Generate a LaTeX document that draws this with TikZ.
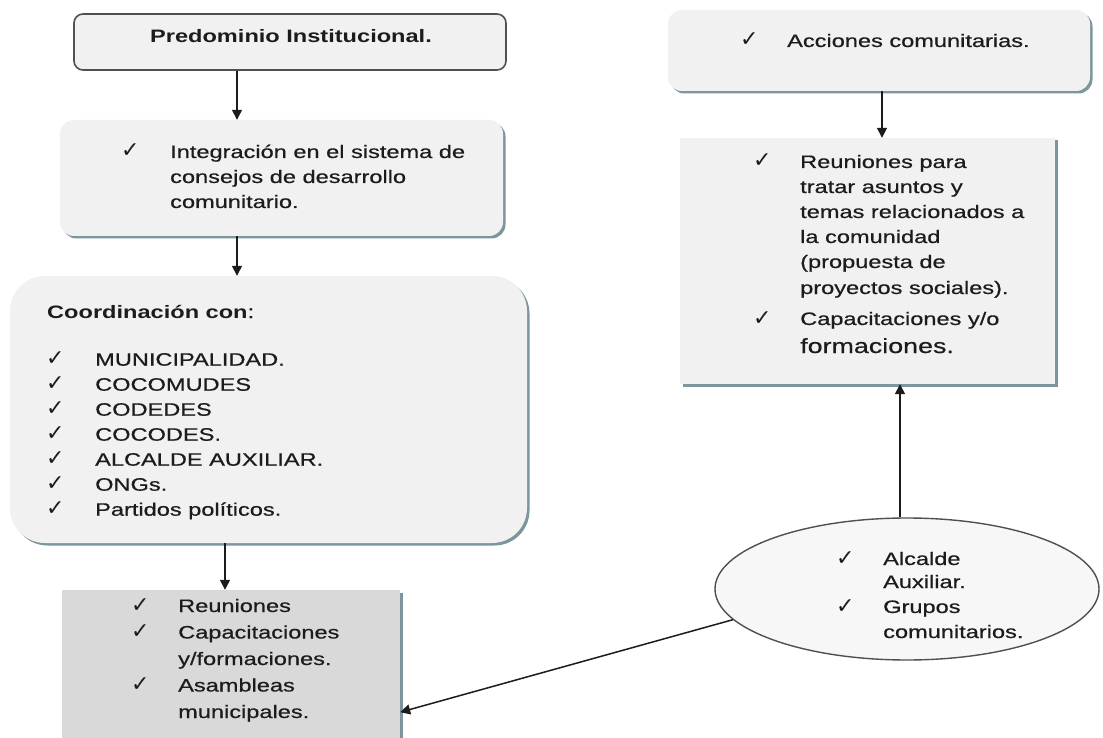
\documentclass[tikz,border=0pt]{standalone}
\usepackage{fontspec}
\newfontfamily\txtfont[FakeStretch=1.31,FakeBold=0.6]{Liberation Sans}
\newfontfamily\headfont[FakeStretch=1.31]{Liberation Sans Bold}
\newfontfamily\chkfont{DejaVu Sans Bold}
\usetikzlibrary{arrows.meta,shapes.geometric,shadows}
\definecolor{boxfill}{RGB}{241,241,241}
\definecolor{darkfill}{RGB}{217,217,217}
\definecolor{shade}{RGB}{125,150,158}
\definecolor{ink}{RGB}{28,28,28}
\definecolor{frame}{RGB}{80,80,80}

\tikzset{
  every node/.style={font=\txtfont\fontsize{18}{25}\selectfont, text=ink},
  panel/.style={rectangle, fill=boxfill, inner sep=0pt,
    drop shadow={shadow xshift=2.5pt, shadow yshift=-2.5pt, fill=shade, opacity=1}},
  titlebox/.style={rectangle, fill=boxfill, draw=frame, line width=1.6pt,
    rounded corners=9pt, inner sep=0pt},
  oval/.style={ellipse, fill=boxfill!60!white, draw=frame, line width=1.4pt, inner sep=0pt},
  wordline/.style={anchor=base west, inner sep=0pt},
  boldline/.style={anchor=base west, inner sep=0pt,
    font=\headfont\fontsize{18}{25}\selectfont},
  tick/.style={anchor=base west, inner sep=0pt,
    font=\chkfont\fontsize{22}{22}\selectfont},
  arr/.style={-{Triangle[length=10pt,width=10pt]}, line width=1.5pt, draw=ink},
}

\begin{document}
\begin{tikzpicture}[x=1pt,y=-1pt]
\useasboundingbox (0,0) rectangle (1103,738);
\fill[white] (0,0) rectangle (1103,738);

% ---------------- left column ----------------
\node[titlebox, minimum width=432pt, minimum height=56pt] (b1) at (290,42) {};
\node[anchor=base, inner sep=0pt, font=\headfont\fontsize{18}{25}\selectfont]
  (b1t) at (291,43) {Predominio Institucional.};

\node[panel, rounded corners=14pt, minimum width=443pt, minimum height=116pt] (b2) at (281.5,178) {};
\node[tick] (b2k) at (121,158) {✓};
\node[wordline] (b2a) at (170,158) {Integración en el sistema de};
\node[wordline] (b2b) at (170,183) {consejos de desarrollo};
\node[wordline] (b2c) at (170,208) {comunitario.};

\node[panel, rounded corners=35pt, minimum width=517pt, minimum height=267pt] (b3) at (268.5,409.5) {};
\node[boldline] (b3h) at (47,318) {Coordinación con{\txtfont:}};
\foreach \txt [count=\i from 0] in {MUNICIPALIDAD., COCOMUDES, CODEDES, COCODES.,
    ALCALDE AUXILIAR., ONGs., Partidos políticos.}{
  \node[tick] (b3k\i) at (46,365.7+25*\i) {✓};
  \node[wordline] (b3l\i) at (95,365.7+25*\i) {\txt};
}

\node[panel, fill=darkfill, minimum width=338pt, minimum height=160pt] (b4) at (231,670) {};
\node[tick] (b4k1) at (131,612) {✓};
\node[tick] (b4k2) at (131,638.5) {✓};
\node[tick] (b4k3) at (131,691.5) {✓};
\node[wordline] (b4a) at (178,612) {Reuniones};
\node[wordline] (b4b) at (178,638.5) {Capacitaciones};
\node[wordline] (b4c) at (178,665) {y/formaciones.};
\node[wordline] (b4d) at (178,691.5) {Asambleas};
\node[wordline] (b4e) at (178,718) {municipales.};

% ---------------- right column ----------------
\node[panel, rounded corners=14pt, minimum width=422pt, minimum height=81pt] (b5) at (879,50.5) {};
\node[tick] (b5k) at (740,47) {✓};
\node[wordline] (b5a) at (787,47) {Acciones comunitarias.};

\node[panel, minimum width=375pt, minimum height=246pt] (b6) at (867.5,261) {};
\node[tick] (b6k1) at (753,168) {✓};
\node[tick] (b6k2) at (753,325) {✓};
\node[wordline] (b6a) at (800,168) {Reuniones para};
\node[wordline] (b6b) at (800,193) {tratar asuntos y};
\node[wordline] (b6c) at (800,218) {temas relacionados a};
\node[wordline] (b6d) at (800,243) {la comunidad};
\node[wordline] (b6e) at (800,268) {(propuesta de};
\node[wordline] (b6f) at (800,294) {proyectos sociales).};
\node[wordline] (b6g) at (800,325) {Capacitaciones y/o};
\node[wordline, font=\txtfont\fontsize{20.5}{25}\selectfont] (b6h) at (800,353) {formaciones.};

\node[oval, minimum width=384pt, minimum height=142pt] (ell) at (907,589) {};
\node[tick] (ek1) at (836,565) {✓};
\node[tick] (ek2) at (836,613) {✓};
\node[wordline] (ea) at (883,565) {Alcalde};
\node[wordline] (eb) at (883,588) {Auxiliar.};
\node[wordline] (ec) at (883,613) {Grupos};
\node[wordline] (ed) at (883,638) {comunitarios.};

% ---------------- connectors ----------------
\draw[arr] ([xshift=-53pt]b1.south) -- ([xshift=-53pt]b1.south |- b2.north);
\draw[arr] ([xshift=-44.5pt]b2.south) -- ([xshift=-44.5pt]b2.south |- b3.north);
\draw[arr] ([xshift=-43.5pt]b3.south) -- ([xshift=-43.5pt]b3.south |- b4.north);
\draw[arr] ([xshift=3pt]b5.south) -- ([xshift=3pt]b5.south |- b6.north);
\draw[arr] ([xshift=-7pt]ell.north) -- ([xshift=-7pt]ell.north |- b6.south);
\draw[arr] (ell.190) -- (b4.-14);
\end{tikzpicture}
\end{document}
